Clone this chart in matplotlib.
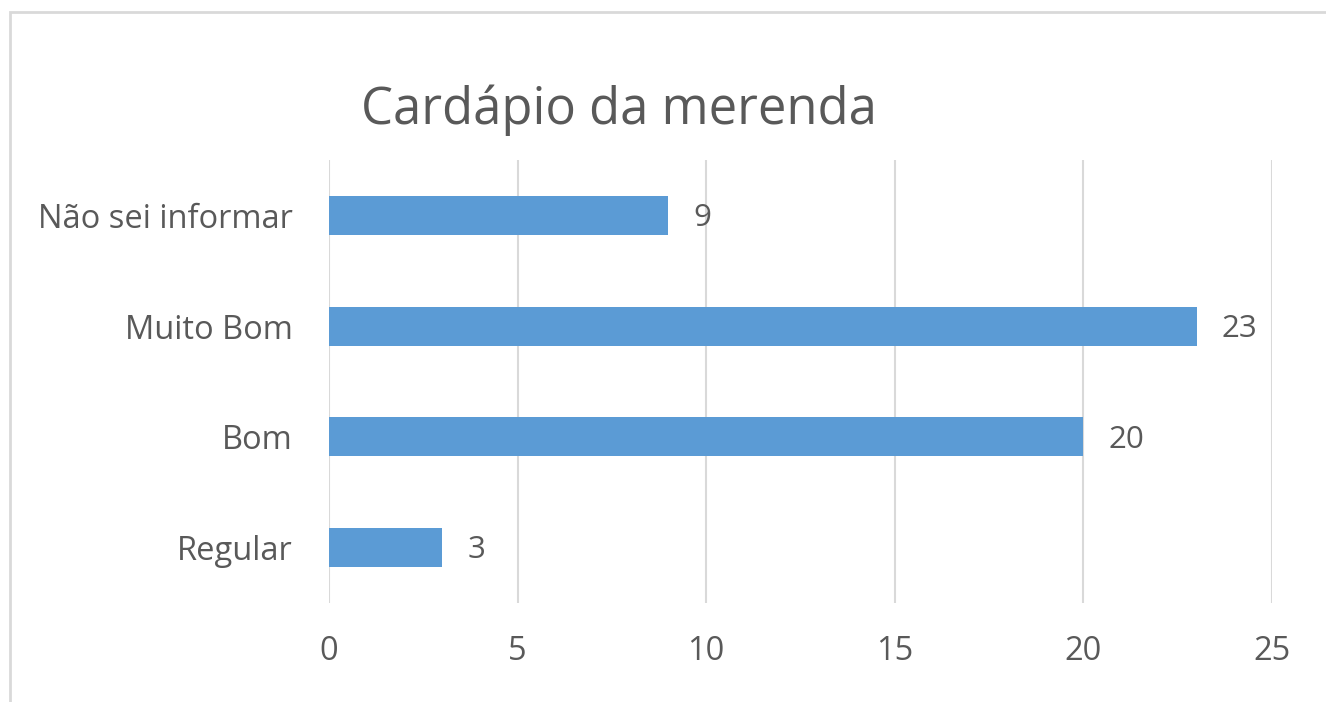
import matplotlib.pyplot as plt
from matplotlib.patches import Rectangle

categories = ["Regular", "Bom", "Muito Bom", "Não sei informar"]
values = [3, 20, 23, 9]
xticks = [0, 5, 10, 15, 20, 25]

TEXT = "#595959"
BAR = "#5B9BD5"
GRID = "#D9D9D9"

plt.rcParams["font.family"] = ["Open Sans", "DejaVu Sans"]

fig = plt.figure(figsize=(13.26, 7.02), dpi=100)
ax = fig.add_axes([0.2481, 0.1410, 0.7112, 0.6311])

ypos = range(len(categories))
ax.barh(ypos, values, height=0.35, color=BAR, zorder=3)

for y, v in zip(ypos, values):
    ax.annotate(str(v), (v, y), xytext=(18, -2), textcoords="offset points",
                va="center", ha="left", fontsize=22.5, color=TEXT)

ax.set_xlim(0, 25)
ax.set_ylim(-0.5, len(categories) - 0.5)
ax.set_xticks(xticks)
ax.set_yticks(list(ypos))
ax.set_yticklabels(categories)
ax.tick_params(axis="both", length=0, labelsize=23.5, labelcolor=TEXT)
ax.tick_params(axis="y", pad=26)
ax.tick_params(axis="x", pad=23)

ax.grid(axis="x", color=GRID, linewidth=1.5, zorder=0)
for s in ax.spines.values():
    s.set_visible(False)

fig.text(0.467, 0.843, "Cardápio da merenda", ha="center", va="center",
         fontsize=36.5, color=TEXT)

# chart frame, cut off at right and bottom
fig.patches.append(Rectangle((10 / 1326, -0.1), 1.2, 1 - 12 / 702 + 0.1,
                             transform=fig.transFigure, fill=False,
                             edgecolor="#D9D9D9", linewidth=2))

fig.savefig("out.png", dpi=100)
